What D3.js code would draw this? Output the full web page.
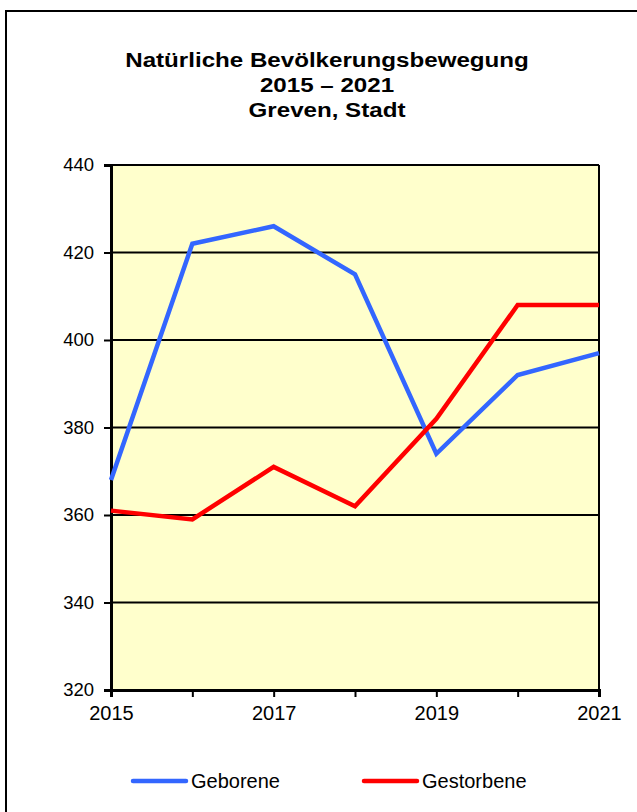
<!DOCTYPE html>
<html><head><meta charset="utf-8">
<script src="https://cdn.jsdelivr.net/npm/d3@7"></script>
<style>body{margin:0;background:#fff}svg{display:block}</style>
</head><body>
<script>
const years = [2015, 2016, 2017, 2018, 2019, 2020, 2021];
const geborene = [368, 422, 426, 415, 374, 392, 397];
const gestorbene = [361, 359, 371, 362, 382, 408, 408];
const yTicks = [320, 340, 360, 380, 400, 420, 440];
const xLabels = [2015, 2017, 2019, 2021];
const titleLines = ["Natürliche Bevölkerungsbewegung", "2015 – 2021", "Greven, Stadt"];
const seriesNames = ["Geborene", "Gestorbene"];
const colors = ["#3366FF", "#FF0000"];

const W = 637, H = 812;
const svg = d3.select("body").append("svg").attr("width", W).attr("height", H);
const font = "Arial, 'Liberation Sans', sans-serif";

svg.append("rect").attr("x", 6).attr("y", 11).attr("width", 700).attr("height", 900)
  .attr("fill", "#fff").attr("stroke", "#000").attr("stroke-width", 2);

const x = d3.scaleLinear().domain([2015, 2021]).range([111, 599]);
const y = d3.scaleLinear().domain([320, 440]).range([690, 165]);

svg.append("rect").attr("x", 111).attr("y", 165).attr("width", 488).attr("height", 525)
  .attr("fill", "#FFFFCC");

// gridlines
svg.append("g").selectAll("line").data(yTicks.slice(1)).join("line")
  .attr("x1", 111).attr("x2", 599).attr("y1", d => y(d)).attr("y2", d => y(d))
  .attr("stroke", "#000").attr("stroke-width", 2);
// right border
svg.append("line").attr("x1", 599).attr("x2", 599).attr("y1", 165).attr("y2", 690)
  .attr("stroke", "#000").attr("stroke-width", 2);

// y axis
const yAxis = svg.append("g").attr("transform", "translate(111,0)")
  .call(d3.axisLeft(y).tickValues(yTicks).tickSize(7).tickPadding(10).tickFormat(d3.format("d")));
yAxis.select(".domain").attr("stroke-width", 3);
yAxis.selectAll(".tick line").attr("stroke-width", 2);
yAxis.selectAll("text").style("font-family", font).style("font-size", "18.5px").attr("fill", "#000");

// x axis
const xAxis = svg.append("g").attr("transform", "translate(0,690)")
  .call(d3.axisBottom(x).tickValues(years).tickSize(7).tickPadding(9)
    .tickFormat(d => xLabels.includes(d) ? String(d) : ""));
xAxis.select(".domain").attr("stroke-width", 3);
xAxis.selectAll(".tick line").attr("stroke-width", 2);
xAxis.selectAll("text").style("font-family", font).style("font-size", "20px").attr("fill", "#000");

const line = d3.line().x((d, i) => x(years[i])).y(d => y(d));
[geborene, gestorbene].forEach((s, k) => {
  svg.append("path").datum(s).attr("d", line).attr("fill", "none")
    .attr("stroke", colors[k]).attr("stroke-width", 4.5).attr("stroke-linejoin", "miter");
});

// title
svg.append("g").attr("transform", "translate(327,0) scale(1.15,1)")
  .selectAll("text").data(titleLines).join("text")
  .attr("x", 0).attr("y", (d, i) => 67 + i * 25).attr("text-anchor", "middle")
  .attr("font-family", font).attr("font-weight", "bold").attr("font-size", 21).text(d => d);

// legend
const leg = [{x: 133, name: seriesNames[0], c: colors[0]}, {x: 364, name: seriesNames[1], c: colors[1]}];
leg.forEach(l => {
  svg.append("line").attr("x1", l.x).attr("x2", l.x + 53).attr("y1", 781).attr("y2", 781)
    .attr("stroke", l.c).attr("stroke-width", 4.5).attr("stroke-linecap", "round");
  svg.append("text").attr("x", l.x + 58).attr("y", 788).attr("font-family", font)
    .attr("font-size", 20).text(l.name);
});
</script>
</body></html>
